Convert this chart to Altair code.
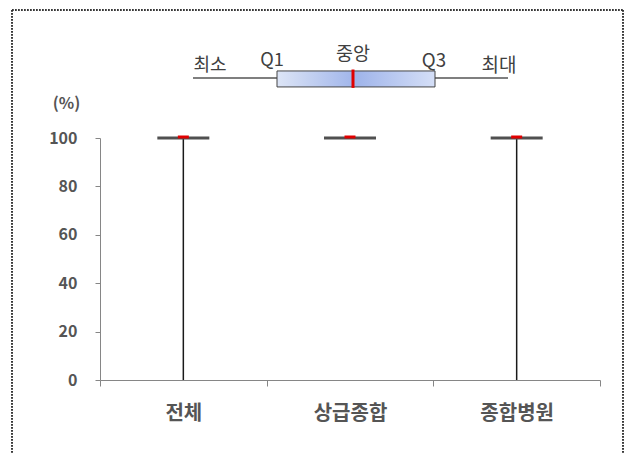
import altair as alt
import pandas as pd

# ---- data ----
categories = ["전체", "상급종합", "종합병원"]
min_vals = [0, 100, 0]
q1_vals = [100, 100, 100]
median_vals = [100, 100, 100]
q3_vals = [100, 100, 100]
max_vals = [100, 100, 100]
y_ticks = [0, 20, 40, 60, 80, 100]

# schematic legend (box diagram) values
legend_labels = ["최소", "Q1", "중앙", "Q3", "최대"]
legend_label_x = [22.0, 34.4, 50.6, 66.8, 79.8]
legend_label_y = [129.8, 131.8, 134.7, 131.8, 129.8]
legend_min, legend_q1, legend_med, legend_q3, legend_max = 18.6, 35.4, 50.6, 67.0, 81.6
legend_box_lo, legend_box_hi, legend_mid = 121.1, 127.7, 124.8
legend_med_lo, legend_med_hi = 120.7, 128.3

FONT = "Noto Sans CJK KR"
GRAY = "#868686"
TXT = "#555555"

df = pd.DataFrame({
    "cat": categories, "min": min_vals, "q1": q1_vals,
    "med": median_vals, "q3": q3_vals, "max": max_vals,
})

xaxis = alt.Axis(labelAngle=0, tickBand="extent", tickSize=6, grid=False,
                 tickColor=GRAY, domainColor=GRAY,
                 labelFont=FONT, labelFontSize=20, labelFontWeight="bold",
                 labelColor=TXT, labelBaseline="middle", labelPadding=27)
xscale = alt.Scale(paddingInner=0, paddingOuter=0)
yaxis = alt.Axis(values=y_ticks, grid=False, tickSize=5,
                 tickColor=GRAY, domainColor=GRAY,
                 labelFont=FONT, labelFontSize=16, labelFontWeight="bold",
                 labelColor=TXT, labelPadding=18,
                 titleAngle=0, titleX=-34, titleY=-35,
                 titleAlign="center", titleBaseline="middle",
                 titleFont=FONT, titleFontSize=16, titleFontWeight="bold",
                 titleColor=TXT)
yscale = alt.Scale(domain=[0, 100], nice=False, zero=False)


def X():
    return alt.X("cat:N", sort=categories, title=None, scale=xscale, axis=xaxis)


def Y(field):
    return alt.Y(field, scale=yscale, title="(%)", axis=yaxis)


base = alt.Chart(df)
whisker = base.mark_rule(color="#1a1a1a", strokeWidth=1.5).encode(
    x=X(), y=Y("min:Q"), y2="max:Q")
box = base.mark_tick(size=52, thickness=3, color="#505050", opacity=1).encode(
    x=X(), y=Y("q3:Q"))
median = base.mark_tick(size=11, thickness=3, color="#e00000", opacity=1, yOffset=-1).encode(
    x=X(), y=Y("med:Q"))

main = alt.layer(whisker, box, median)

# ---- legend diagram ----
ldf = pd.DataFrame({"label": legend_labels, "x": legend_label_x, "y": legend_label_y})
seg = pd.DataFrame({"x": [legend_min], "x2": [legend_max], "y": [legend_mid]})
bx = pd.DataFrame({"x": [legend_q1], "x2": [legend_q3], "y": [legend_box_lo], "y2": [legend_box_hi]})
md = pd.DataFrame({"x": [legend_med], "y": [legend_med_lo], "y2": [legend_med_hi]})

lx = alt.Scale(domain=[0, 100], nice=False, zero=False)
ly = alt.Scale(domain=[0, 100], nice=False, zero=False)

leg_line = alt.Chart(seg).mark_rule(color="#555555", strokeWidth=1.5).encode(
    x=alt.X("x:Q", scale=lx, axis=None), x2="x2:Q",
    y=alt.Y("y:Q", scale=ly, axis=None))
grad = alt.Gradient(gradient="linear", x1=0, x2=1, y1=0, y2=0,
                    stops=[alt.GradientStop(offset=0, color="#dde5f6"),
                           alt.GradientStop(offset=0.5, color="#9fb4ea"),
                           alt.GradientStop(offset=1, color="#d5dff7")])
leg_box = alt.Chart(bx).mark_rect(fill=grad, stroke="#444444", strokeWidth=1).encode(
    x=alt.X("x:Q", scale=lx, axis=None), x2="x2:Q",
    y=alt.Y("y:Q", scale=ly, axis=None), y2="y2:Q")
leg_med = alt.Chart(md).mark_rule(color="#e00000", strokeWidth=3).encode(
    x=alt.X("x:Q", scale=lx, axis=None),
    y=alt.Y("y:Q", scale=ly, axis=None), y2="y2:Q")
leg_text = alt.Chart(ldf).mark_text(font=FONT, color="#404040").encode(
    x=alt.X("x:Q", scale=lx, axis=None),
    y=alt.Y("y:Q", scale=ly, axis=None), text="label:N",
    size=alt.Size("label:N", scale=alt.Scale(domain=legend_labels,
                                             range=[18, 19, 19, 19, 18]),
                  legend=None))

# decorative dotted frame (left, top, right edges; bottom lies below the page)
frame_style = dict(color="#333333", strokeWidth=1, strokeDash=[1.5, 1.5])
frame_left = alt.Chart(ldf).mark_rule(**frame_style).encode(
    x=alt.value(-88), y=alt.value(-128), y2=alt.value(340))
frame_right = alt.Chart(ldf).mark_rule(**frame_style).encode(
    x=alt.value(523), y=alt.value(-128), y2=alt.value(340))
frame_top = alt.Chart(ldf).mark_rule(**frame_style).encode(
    x=alt.value(-88), x2=alt.value(523), y=alt.value(-128))

legend = alt.layer(leg_line, leg_box, leg_med, leg_text)

chart = alt.layer(main, legend, frame_left, frame_right, frame_top).resolve_scale(
    x="independent", y="independent", size="independent"
).properties(
    width=500, height=242,
    autosize=alt.AutoSizeParams(type="none"),
    padding={"left": 92, "top": 130, "right": 25, "bottom": 73},
).configure(background="white").configure_view(stroke=None).configure_axis(grid=False)

chart.save("out.html", embed_options={"renderer": "svg", "actions": False})
